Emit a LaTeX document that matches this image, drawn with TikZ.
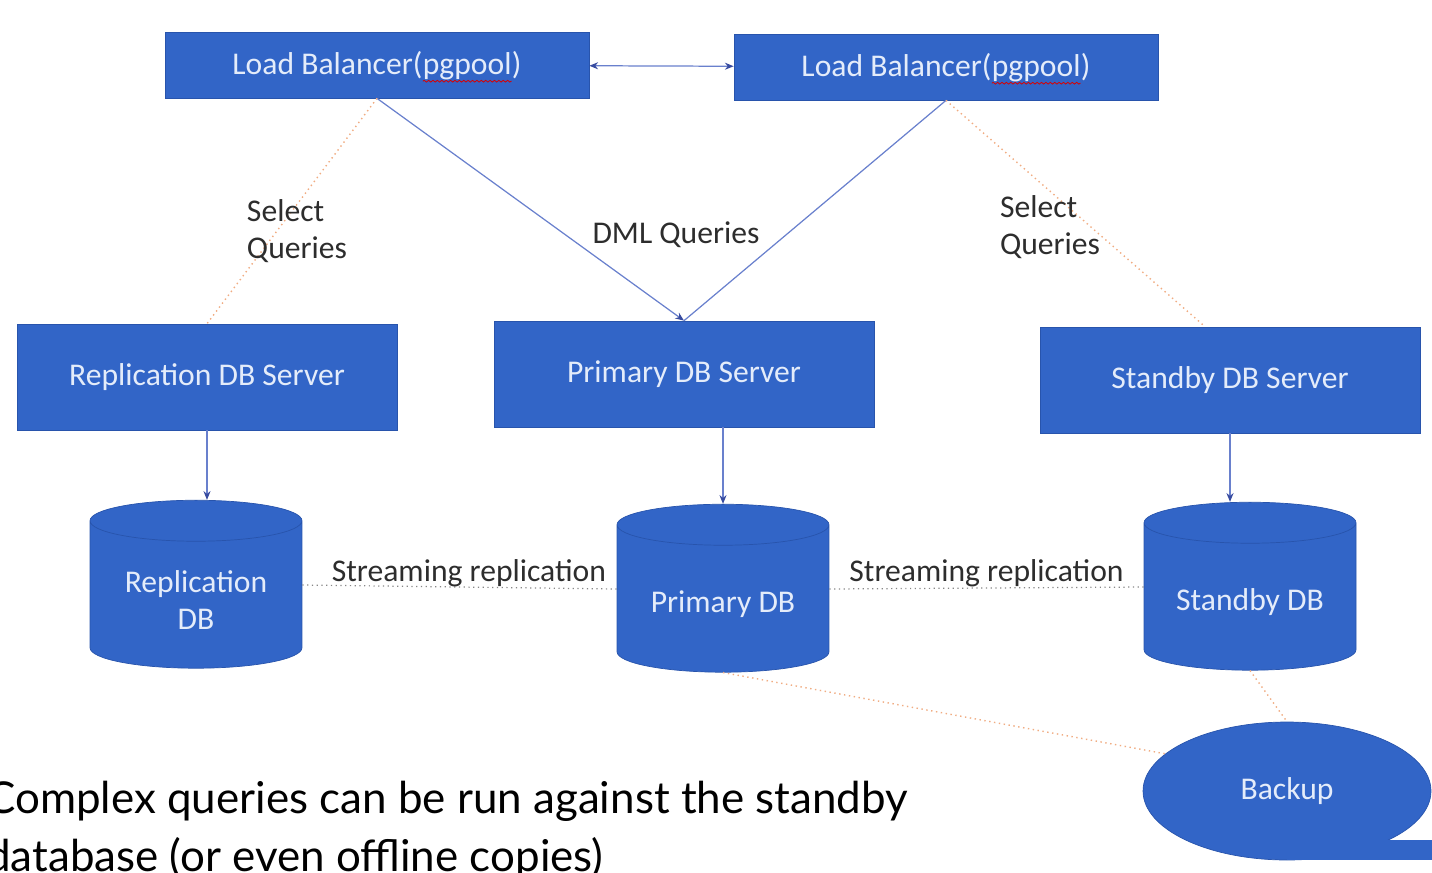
\documentclass[tikz,border=0pt]{standalone}
\usepackage{fontspec}
\setmainfont{Carlito}
\newfontfamily\gillfont{Lato}
\usetikzlibrary{shapes.geometric,arrows.meta,decorations.pathmorphing}

\definecolor{boxblue}{RGB}{50,101,199}
\definecolor{boxedge}{RGB}{40,84,172}
\definecolor{boxtext}{RGB}{228,236,250}
\definecolor{linkblue}{RGB}{105,128,205}
\definecolor{tipblue}{RGB}{55,75,160}
\definecolor{readorange}{RGB}{240,172,130}
\definecolor{streamgray}{RGB}{135,135,135}
\definecolor{labelgray}{RGB}{45,45,45}

\tikzset{
  boxfont/.style={font=\fontsize{18}{21}\selectfont},
  lbbox/.style={rectangle,fill=boxblue,draw=boxedge,text=boxtext,boxfont,
    minimum width=8.48cm,minimum height=1.32cm},
  srvbox/.style={rectangle,fill=boxblue,draw=boxedge,text=boxtext,boxfont,
    minimum width=7.6cm,minimum height=2.12cm},
  dbcyl/.style={cylinder,shape border rotate=90,aspect=3.5,fill=boxblue,draw=boxedge,
    minimum width=4.24cm,minimum height=3.36cm},
  dbtext/.style={boxfont,text=boxtext,align=center,yshift=-0.04cm},
  qlabel/.style={boxfont,text=labelgray,align=left,inner sep=0pt},
  conn/.style={draw=linkblue,line width=0.7pt,>={Stealth[length=5pt,width=4pt,color=tipblue]}},
  readlink/.style={draw=readorange,line width=0.8pt,dotted},
  streamlink/.style={draw=streamgray,line width=0.7pt,dotted}
}

\newcommand{\spellmark}[1]{\smash{\tikz[baseline=(sw.base)]{\node[inner sep=0pt,outer sep=0pt,
    minimum width=0pt,minimum height=0pt,fill=none,draw=none] (sw) {#1};
  \draw[red!85!black,line width=0.45pt,decorate,decoration={snake,amplitude=0.5pt,segment length=2.5pt}]
    ([yshift=-0.8pt]sw.south west) -- ([yshift=-0.8pt]sw.south east);}}}

\begin{document}
\begin{tikzpicture}[x=0.02cm,y=-0.02cm]
    \path[use as bounding box,clip] (0,0) rectangle (1432,872);

    \node [lbbox] (lb1) at (377,65) {Load Balancer(\spellmark{pgpool})};
    \node [lbbox] (lb2) at (946,67) {Load Balancer(\spellmark{pgpool})};

    \node [srvbox] (rserv) at (207,377) {Replication DB Server};
    \node [srvbox] (pserv) at (684,374) {Primary DB Server};
    \node [srvbox] (sserv) at (1230,380) {Standby DB Server};

    \node [dbcyl,label={[dbtext,name=rdbtext]center:Replication\\DB}] (rdb) at (196,598) {};
    \node [dbcyl,label={[dbtext,name=pdbtext]center:Primary DB}] (pdb) at (723,602) {};
    \node [dbcyl,label={[dbtext,name=sdbtext]center:Standby DB}] (sdb) at (1250,600) {};

    \node [ellipse,fill=boxblue,draw=boxedge,text=boxtext,boxfont,
           minimum width=5.76cm,minimum height=2.76cm] (bak) at (1287,791) {};
    \fill [boxblue] (bak.south) rectangle (1450,840);
    \node [boxfont,text=boxtext] (baktext) at (bak.center) {Backup};

    \draw [conn,<->] (lb1) -- (lb2);
    \draw [conn,->] (lb1.south) -- (pserv.north);
    \draw [conn] (lb2.south) -- (pserv.north);
    \draw [readlink] (lb1.south) -- (rserv.north);
    \draw [readlink] (lb2.south) -- ([xshift=-0.5cm]sserv.north);

    \node [qlabel] (selleft) at (297,231) {Select\\Queries};
    \node [qlabel] (dml) at (676,235) {DML Queries};
    \node [qlabel] (selright) at (1050,227) {Select\\Queries};

    \draw [conn,->] (rserv.south) -- (rserv.south |- rdb.north);
    \draw [conn,->] (pdb.north |- pserv.south) -- (pdb.north);
    \draw [conn,->] (sserv.south) -- (sserv.south |- sdb.north);

    \draw [streamlink] ([yshift=0.26cm]rdb.east) -- node [qlabel,above,pos=0.53] (strleft) {Streaming replication} ([yshift=0.26cm]pdb.west);
    \draw [streamlink] ([yshift=0.26cm]pdb.east) -- node [qlabel,above] (strright) {Streaming replication} ([yshift=0.26cm]sdb.west);

    \draw [readlink] (pdb.south) -- (bak.163);
    \draw [readlink] (sdb.south) -- (bak.north);

    \node [anchor=base west,align=left,inner sep=0pt,text=black,
           font=\gillfont\fontsize{25}{33}\selectfont] (note) at (-14,871)
          {Complex queries can be run against the standby\\database (or even offline copies)};
\end{tikzpicture}
\end{document}
